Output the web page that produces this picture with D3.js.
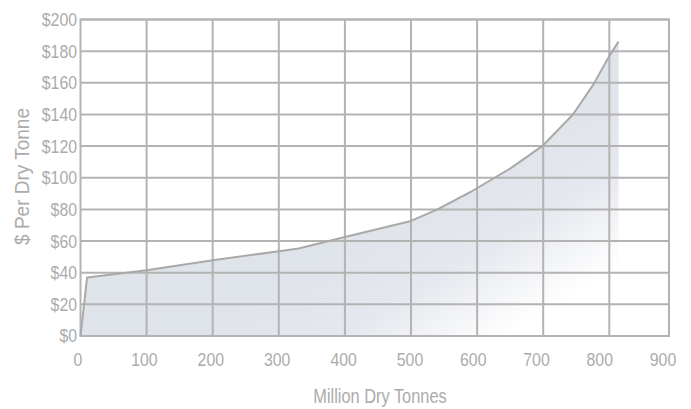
<!DOCTYPE html>
<html>
<head>
<meta charset="utf-8">
<script src="https://cdn.jsdelivr.net/npm/d3@7"></script>
<style>
  html, body { margin: 0; padding: 0; background: #fff; }
  svg { display: block; }
  text { font-family: "Liberation Sans", Arial, sans-serif; fill: #ababab; }
</style>
</head>
<body>
<svg id="chart" width="691" height="409"></svg>
<script>
// Data: supply (million dry tonnes) vs cost ($ per dry tonne)
const supply = [0, 10, 100, 200, 300, 330, 400, 500, 540, 590, 650, 700, 745, 776, 800, 814];
const cost   = [0, 37, 41.5, 47.8, 53.6, 55.3, 62.6, 72.7, 80, 91, 105.8, 120.5, 140, 159, 177, 186];
const xTickLabels = [0, 100, 200, 300, 400, 500, 600, 700, 800, 900];
const xGridValues = [100, 200, 300, 400, 500, 600, 700, 800];
const yTickValues = [0, 20, 40, 60, 80, 100, 120, 140, 160, 180, 200];

const data = supply.map((s, i) => ({ x: s, y: cost[i] }));

const svg = d3.select("#chart");
const pLeft = 80.5, pRight = 669, pTop = 19.5, pBottom = 336;

const x = d3.scaleLinear().domain([0, 890.3]).range([pLeft, pRight]);
const y = d3.scaleLinear().domain([0, 200]).range([pBottom, pTop]);
// label positions in the reference drift slightly from the grid
const xLab = d3.scaleLinear().domain([0, 500, 900]).range([78, 410, 663]);

const defs = svg.append("defs");
const grad = defs.append("linearGradient")
  .attr("id", "fillGrad")
  .attr("gradientUnits", "userSpaceOnUse")
  .attr("x1", x(430)).attr("y1", y(70))
  .attr("x2", x(560)).attr("y2", y(-20));
grad.append("stop").attr("offset", 0).attr("stop-color", "#dfe3ea");
grad.append("stop").attr("offset", 0.5).attr("stop-color", "#e5e8ee");
grad.append("stop").attr("offset", 1).attr("stop-color", "#ffffff");

// area
const area = d3.area().x(d => x(d.x)).y0(y(0)).y1(d => y(d.y));
svg.append("path").datum(data).attr("d", area).attr("fill", "url(#fillGrad)");

// grid
const gridColor = "#b3b3b3";
const g = svg.append("g");
g.selectAll(".vg").data(xGridValues).enter().append("line")
  .attr("x1", d => x(d)).attr("x2", d => x(d))
  .attr("y1", pTop).attr("y2", pBottom)
  .attr("stroke", gridColor).attr("stroke-width", 2);
g.selectAll(".hg").data(yTickValues).enter().append("line")
  .attr("x1", pLeft).attr("x2", pRight)
  .attr("y1", d => y(d)).attr("y2", d => y(d))
  .attr("stroke", gridColor).attr("stroke-width", 2);
g.append("rect").attr("x", pLeft).attr("y", pTop)
  .attr("width", pRight - pLeft).attr("height", pBottom - pTop)
  .attr("fill", "none").attr("stroke", gridColor).attr("stroke-width", 2);

// line
const line = d3.line().x(d => x(d.x)).y(d => y(d.y));
svg.append("path").datum(data).attr("d", line)
  .attr("fill", "none").attr("stroke", "#a9a9a9").attr("stroke-width", 2)
  .attr("stroke-linejoin", "round");

// y labels (condensed look)
svg.selectAll(".yl").data(yTickValues).enter().append("text")
  .attr("transform", d => `translate(77, ${y(d)}) scale(0.88, 1)`)
  .attr("dy", "0.36em")
  .attr("text-anchor", "end").attr("font-size", 18)
  .text(d => "$" + d);

// x labels
svg.selectAll(".xl").data(xTickLabels).enter().append("text")
  .attr("transform", d => `translate(${xLab(d)}, 366) scale(0.88, 1)`)
  .attr("text-anchor", "middle").attr("font-size", 18)
  .text(d => d);

// titles
svg.append("text")
  .attr("transform", "translate(380, 403) scale(0.84, 1)")
  .attr("text-anchor", "middle").attr("font-size", 19.5)
  .text("Million Dry Tonnes");
svg.append("text")
  .attr("transform", `translate(29, 176.5) rotate(-90) scale(0.95, 1)`)
  .attr("text-anchor", "middle").attr("font-size", 20)
  .text("$ Per Dry Tonne");
</script>
</body>
</html>
